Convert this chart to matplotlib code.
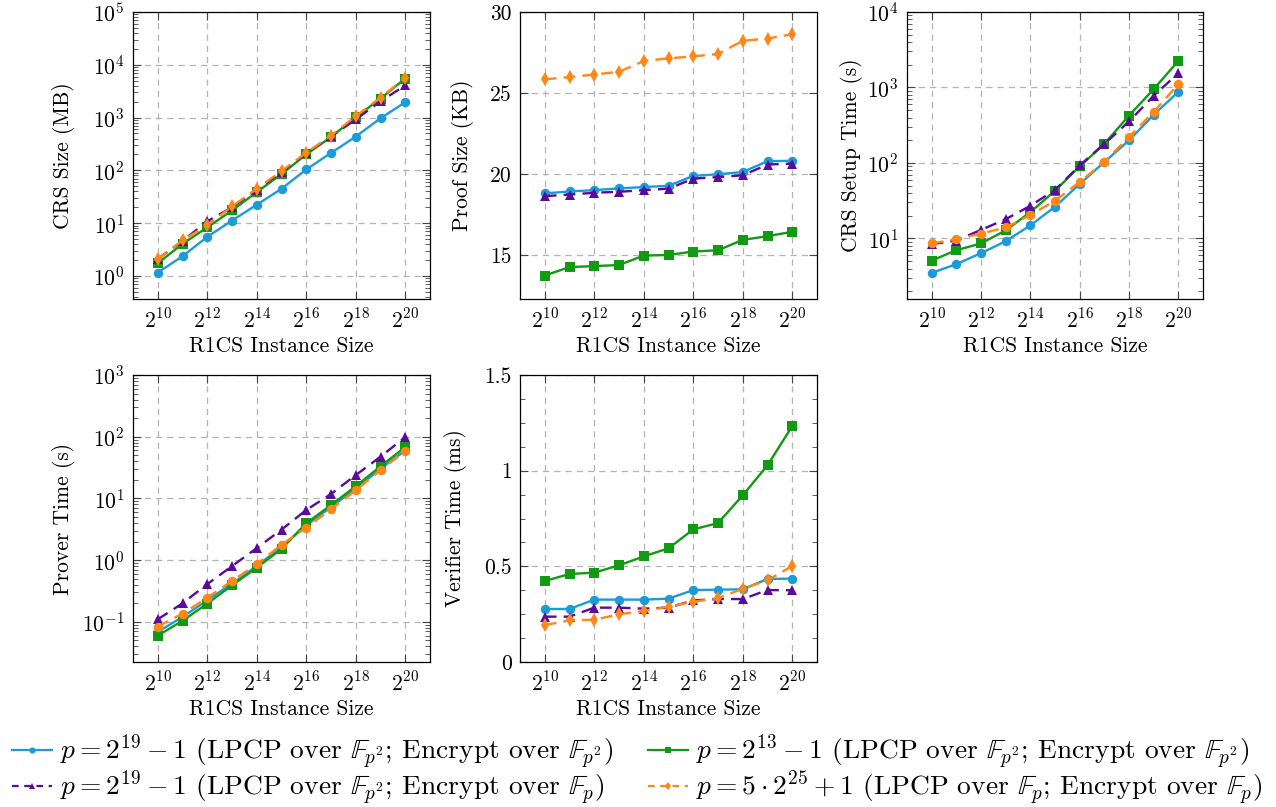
"""Five-panel benchmark figure: CRS size, proof size, setup, prover and verifier time."""

import matplotlib

matplotlib.use("Agg")
import matplotlib.pyplot as plt
from matplotlib.lines import Line2D
from matplotlib.ticker import FixedLocator, FixedFormatter, LogLocator, NullFormatter, MultipleLocator

plt.rcParams.update({
    "font.family": "serif",
    "font.serif": ["cmr10", "DejaVu Serif"],
    "mathtext.fontset": "cm",
    "axes.formatter.use_mathtext": True,
    "font.size": 15.5,
    "axes.linewidth": 0.9,
})

# R1CS instance size exponents (2^k)
log_sizes = [10, 11, 12, 13, 14, 15, 16, 17, 18, 19, 20]

# CRS size (MB)
crs_blue = [1.16, 2.36, 5.5, 11.2, 22.3, 44.9, 104, 214, 436, 970, 1955]
crs_green = [1.74, 4.05, 8.3, 17.4, 38.8, 85, 201, 429, 1014, 2290, 5490]
crs_purple = [2.1, 4.6, 10.8, 20, 43, 93, 210, 440, 920, 2040, 4060]
crs_orange = [2.07, 4.7, 9.2, 20.7, 44.9, 97, 216, 455, 1060, 2400, 5650]

# Proof size (KB)
proof_blue = [18.80, 18.92, 19.00, 19.11, 19.19, 19.27, 19.88, 19.98, 20.12, 20.79, 20.81]
proof_green = [13.73, 14.25, 14.31, 14.38, 14.96, 15.00, 15.21, 15.29, 15.93, 16.16, 16.43]
proof_purple = [18.63, 18.73, 18.84, 18.90, 19.00, 19.09, 19.71, 19.81, 19.92, 20.58, 20.64]
proof_orange = [25.85, 25.98, 26.14, 26.31, 26.97, 27.14, 27.26, 27.41, 28.22, 28.36, 28.63]

# CRS setup time (s)
setup_blue = [3.5, 4.57, 6.4, 9.2, 14.9, 26.3, 52.6, 103, 199, 435, 877]
setup_green = [5.1, 7.0, 8.6, 12.8, 22.3, 43, 90, 179, 425, 950, 2250]
setup_purple = [8.4, 9.4, 13.0, 18.0, 27.1, 44, 92.7, 179, 355, 776, 1549]
setup_orange = [8.6, 9.8, 11.6, 14.0, 20.4, 31.6, 56, 103.5, 222, 476, 1107]

# Prover time (s)
prover_blue = [0.069, 0.12, 0.224, 0.417, 0.805, 1.64, 3.66, 7.25, 14.4, 30.2, 60]
prover_green = [0.060, 0.104, 0.198, 0.39, 0.757, 1.52, 3.96, 7.8, 15.8, 33.1, 68]
prover_purple = [0.110, 0.20, 0.41, 0.80, 1.57, 3.12, 6.5, 11.8, 23.9, 47.4, 98.8]
prover_orange = [0.084, 0.136, 0.247, 0.46, 0.857, 1.78, 3.36, 6.7, 13.5, 28.8, 58.6]

# Verifier time (ms)
verifier_blue = [0.277, 0.277, 0.326, 0.326, 0.326, 0.331, 0.376, 0.378, 0.380, 0.434, 0.436]
verifier_green = [0.423, 0.46, 0.467, 0.505, 0.552, 0.594, 0.693, 0.726, 0.871, 1.028, 1.233]
verifier_purple = [0.237, 0.237, 0.284, 0.284, 0.279, 0.284, 0.322, 0.329, 0.329, 0.376, 0.375]
verifier_orange = [0.193, 0.218, 0.221, 0.249, 0.267, 0.289, 0.315, 0.334, 0.383, 0.427, 0.502]

series_labels = [
    r"$p = 2^{19} - 1$ (LPCP over $\mathbb{F}_{p^2}$; Encrypt over $\mathbb{F}_{p^2}$)",
    r"$p = 2^{13} - 1$ (LPCP over $\mathbb{F}_{p^2}$; Encrypt over $\mathbb{F}_{p^2}$)",
    r"$p = 2^{19} - 1$ (LPCP over $\mathbb{F}_{p^2}$; Encrypt over $\mathbb{F}_{p}$)",
    r"$p = 5 \cdot 2^{25} + 1$ (LPCP over $\mathbb{F}_{p}$; Encrypt over $\mathbb{F}_{p}$)",
]

BLUE = "#1b9cd8"
GREEN = "#139a13"
PURPLE = "#5a0a9c"
ORANGE = "#ff8717"

W, H = 1276, 807
fig = plt.figure(figsize=(W / 100, H / 100), dpi=100)


def axes_px(x0, y0, x1, y1):
    return fig.add_axes([x0 / W, 1 - y1 / H, (x1 - x0) / W, (y1 - y0) / H])


def style_axes(ax, ylabel, label_x):
    ax.set_xscale("log", base=2)
    ax.set_xlim(2 ** 9, 2 ** 21)
    xt = [2 ** k for k in range(10, 21, 2)]
    ax.xaxis.set_major_locator(FixedLocator(xt))
    ax.xaxis.set_major_formatter(FixedFormatter([rf"$2^{{{k}}}$" for k in range(10, 21, 2)]))
    ax.xaxis.set_minor_locator(FixedLocator([]))
    ax.grid(True, which="major", color="#b4b4b4", linestyle=(0, (5, 4)), linewidth=0.9)
    ax.tick_params(which="both", direction="in", top=True, right=True, color="#444444")
    ax.tick_params(which="major", length=5.5, width=0.8, pad=6)
    ax.tick_params(which="minor", length=3.3, width=0.6)
    ax.set_xlabel("R1CS Instance Size")
    ax.xaxis.set_label_coords(0.5, -0.13)
    ax.set_ylabel(ylabel)
    ax.yaxis.set_label_coords(label_x, 0.5)


def log_y(ax, lo, hi):
    ax.set_yscale("log")
    ax.set_ylim(lo, hi)
    ax.yaxis.set_major_locator(LogLocator(base=10, numticks=20))
    ax.yaxis.set_minor_locator(LogLocator(base=10, subs=range(2, 10), numticks=20))
    ax.yaxis.set_minor_formatter(NullFormatter())


def draw(ax, blue, green, purple, orange, orange_marker):
    xs = [2 ** k for k in log_sizes]
    kw = dict(linewidth=1.7, markersize=6.8)
    ax.plot(xs, blue, color=BLUE, marker="o", markeredgewidth=0, **kw)
    ax.plot(xs, green, color=GREEN, marker="s", markeredgewidth=0, **kw)
    ax.plot(xs, purple, color=PURPLE, marker="^", markeredgewidth=0, dashes=(5, 3), **kw)
    ms = 6.8 if orange_marker == "o" else 7.5
    ax.plot(xs, orange, color=ORANGE, marker=orange_marker, markeredgewidth=0,
            dashes=(5, 3), linewidth=1.7, markersize=ms)


ax1 = axes_px(133, 12, 430, 299)
draw(ax1, crs_blue, crs_green, crs_purple, crs_orange, "d")
log_y(ax1, 0.366, 1e5)
style_axes(ax1, "CRS Size (MB)", -0.195)

ax2 = axes_px(520, 12, 817, 299)
draw(ax2, proof_blue, proof_green, proof_purple, proof_orange, "d")
ax2.set_ylim(12.28, 30)
ax2.yaxis.set_major_locator(FixedLocator([15, 20, 25, 30]))
ax2.yaxis.set_major_formatter(FixedFormatter(["15", "20", "25", "30"]))
style_axes(ax2, "Proof Size (KB)", -0.155)

ax3 = axes_px(907, 12, 1203, 299)
draw(ax3, setup_blue, setup_green, setup_purple, setup_orange, "o")
log_y(ax3, 1.58, 1e4)
style_axes(ax3, "CRS Setup Time (s)", -0.15)

ax4 = axes_px(133, 375, 430, 662)
draw(ax4, prover_blue, prover_green, prover_purple, prover_orange, "o")
log_y(ax4, 0.0224, 1e3)
style_axes(ax4, "Prover Time (s)", -0.195)

ax5 = axes_px(520, 375, 817, 662)
draw(ax5, verifier_blue, verifier_green, verifier_purple, verifier_orange, "d")
ax5.set_ylim(0, 1.5)
ax5.yaxis.set_major_locator(FixedLocator([0, 0.5, 1, 1.5]))
ax5.yaxis.set_major_formatter(FixedFormatter(["0", "0.5", "1", "1.5"]))
ax5.yaxis.set_minor_locator(MultipleLocator(0.125))
style_axes(ax5, "Verifier Time (ms)", -0.178)

# legend: column-wise fill -> blue, purple | green, orange
leg_handles = [
    Line2D([], [], color=BLUE, marker="o", lw=1.6, ms=4.5, mew=0),
    Line2D([], [], color=PURPLE, marker="^", lw=1.6, ms=4.5, mew=0, dashes=(3, 2.5)),
    Line2D([], [], color=GREEN, marker="s", lw=1.6, ms=4.5, mew=0),
    Line2D([], [], color=ORANGE, marker="d", lw=1.6, ms=4.5, mew=0, dashes=(3, 2.5)),
]
leg_labels = [series_labels[0], series_labels[2], series_labels[1], series_labels[3]]
fig.legend(leg_handles, leg_labels, loc="upper left", bbox_to_anchor=(12 / W, 1 - 733 / H),
           ncol=2, frameon=False, fontsize=19.8, handlelength=1.45, handletextpad=0.3,
           columnspacing=1.25, labelspacing=-0.12, borderaxespad=0.0, borderpad=0.0)

fig.savefig("out.png", dpi=100)
